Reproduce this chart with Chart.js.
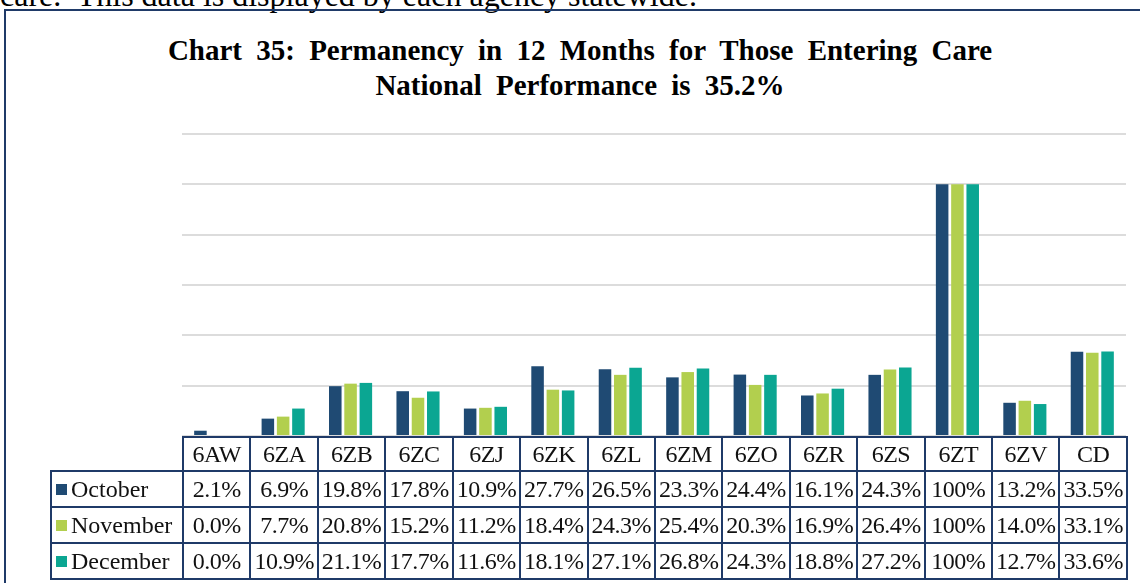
<!DOCTYPE html>
<html lang="en">
  <head>
    <meta charset="UTF-8" />
    <title>Chart 35 - Permanency in 12 Months</title>
    <script src="https://cdn.jsdelivr.net/npm/chart.js"></script>
    <style>
      body { margin: 0; background: #fff; font-family: "Liberation Serif", "Times New Roman", "DejaVu Serif", serif; }
      .page { position: relative; width: 1140px; height: 583px; overflow: hidden; }
      .intro { position: absolute; left: 0; top: -21px; font-size: 32px; line-height: 32px; color: #000; white-space: pre; }
      .frame { position: absolute; left: 4px; top: 9px; width: 1200px; height: 620px; border: 2px solid #1f3a68; }
      .titulo { position: absolute; left: 0; top: 33px; width: 1160px; text-align: center; font-weight: bold; font-size: 29px; line-height: 35px; color: #000; word-spacing: 7px; }
      .grafico { position: absolute; left: 0; top: 0; width: 1140px; height: 583px; }
      table { position: absolute; left: 50px; top: 436px; border-collapse: collapse; table-layout: fixed; font-size: 24px; color: #111; }
      td { border: 2px solid #1f3a68; text-align: center; padding: 0; white-space: nowrap; overflow: hidden; letter-spacing: -0.5px; }
      tr.cab td { height: 32px; }
      tr.linha td { height: 34px; }
      td.vazio { border: none; }
      td.leg { text-align: left; padding-left: 4px; letter-spacing: 0; }
      .quad { display: inline-block; width: 11px; height: 11px; margin-right: 4px; vertical-align: 2px; }
    </style>
  </head>
  <body>
    <div class="page">
      <div class="intro">care.  This data is displayed by each agency statewide.</div>
      <div class="frame"></div>
      <div class="titulo">Chart 35: Permanency in 12 Months for Those Entering Care<br />National Performance is 35.2%</div>
      <div class="grafico"><canvas id="permanencia"></canvas></div>
      <table id="tabela"></table>
    </div>
  </body>
</html>
<script>
  const agencias = ["6AW", "6ZA", "6ZB", "6ZC", "6ZJ", "6ZK", "6ZL", "6ZM", "6ZO", "6ZR", "6ZS", "6ZT", "6ZV", "CD"];
  const outubro = [2.1, 6.9, 19.8, 17.8, 10.9, 27.7, 26.5, 23.3, 24.4, 16.1, 24.3, 100, 13.2, 33.5];
  const novembro = [0.0, 7.7, 20.8, 15.2, 11.2, 18.4, 24.3, 25.4, 20.3, 16.9, 26.4, 100, 14.0, 33.1];
  const dezembro = [0.0, 10.9, 21.1, 17.7, 11.6, 18.1, 27.1, 26.8, 24.3, 18.8, 27.2, 100, 12.7, 33.6];
  const meses = ["October", "November", "December"];
  const cores = ["#1f4a73", "#b2cf4e", "#0ba692"];

  const series = [outubro, novembro, dezembro];

  const grafico = document.getElementById("permanencia");
  let permanencia = new Chart(grafico, {
    type: "bar",
    data: {
      labels: agencias,
      datasets: series.map((valores, i) => ({
        label: meses[i],
        data: valores,
        backgroundColor: cores[i],
        borderWidth: 0,
        categoryPercentage: 0.68,
        barPercentage: 0.82,
      })),
    },
    options: {
      responsive: true,
      maintainAspectRatio: false,
      animation: false,
      layout: {
        padding: { left: 182, right: 14, top: 134, bottom: 147 },
      },
      plugins: {
        legend: { display: false },
        tooltip: { enabled: false },
      },
      scales: {
        x: { display: false },
        y: {
          min: 0,
          max: 120,
          ticks: { display: false, stepSize: 20 },
          border: { display: false },
          grid: { color: "#dcdcdc", lineWidth: 2, drawTicks: false },
        },
      },
    },
  });

  // tabela de dados abaixo do grafico
  function formatar(v) {
    return v === 100 ? "100%" : v.toFixed(1) + "%";
  }

  const tabela = document.getElementById("tabela");
  let html = '<colgroup><col style="width:132px">';
  agencias.forEach(() => { html += '<col style="width:67.43px">'; });
  html += "</colgroup>";
  html += '<tr class="cab"><td class="vazio"></td>';
  agencias.forEach((a) => { html += "<td>" + a + "</td>"; });
  html += "</tr>";
  series.forEach((valores, i) => {
    html += '<tr class="linha"><td class="leg"><span class="quad" style="background:' + cores[i] + '"></span>' + meses[i] + "</td>";
    valores.forEach((v) => { html += "<td>" + formatar(v) + "</td>"; });
    html += "</tr>";
  });
  tabela.innerHTML = html;
</script>
